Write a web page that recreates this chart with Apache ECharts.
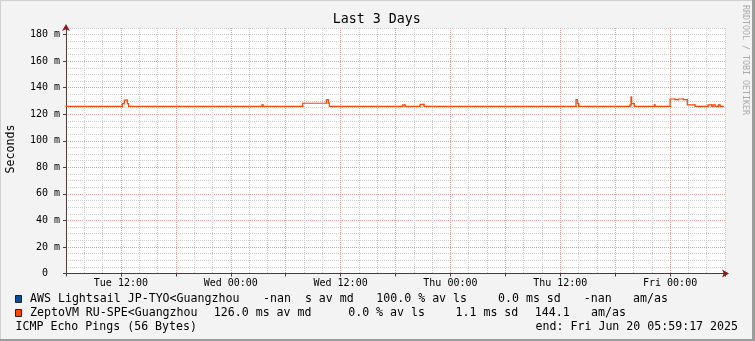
<!DOCTYPE html>
<html><head><meta charset="utf-8">
<script src="https://cdn.jsdelivr.net/npm/echarts@6/dist/echarts.min.js"></script>
<style>html,body{margin:0;padding:0;background:#f3f3f3}#c{width:755px;height:341px}</style>
</head><body><div id="c"></div>
<script>
// ---- data ----
const chartTitle = 'Last 3 Days';
const yAxisTitle = 'Seconds';
const watermark = 'RRDTOOL / TOBI OETIKER';
// x in hours since Tue 06:00 (3 days window)
const xLabelHours = [6, 18, 30, 42, 54, 66];
const xTickLabels = ['Tue 12:00', 'Wed 00:00', 'Wed 12:00', 'Thu 00:00', 'Thu 12:00', 'Fri 00:00'];
const yTickValues = [0, 20, 40, 60, 80, 100, 120, 140, 160, 180];
const yTickLabels = ['0', '20 m', '40 m', '60 m', '80 m', '100 m', '120 m', '140 m', '160 m', '180 m'];
// ZeptoVM median RTT (ms), value holds from each hour mark to the next
const zeptoHours = [0, 6.15, 6.37, 6.70, 6.83, 21.41, 21.52, 25.86, 28.44, 28.66, 28.77, 36.79, 37.04, 38.68, 39.11, 55.72, 55.86, 56.01, 61.62, 61.73, 61.80, 62.09, 64.27, 64.35, 66.0, 66.54, 66.9, 67.44, 67.88, 68.72, 70.15, 70.55, 70.69, 70.91, 71.27, 71.45, 71.81];
const zeptoMs = [126, 128, 130.6, 128, 126, 127, 126, 128.3, 131, 128.3, 126, 127, 126, 127.5, 126, 131, 128, 126, 127, 133, 128, 126, 127, 126, 131.5, 131, 131.5, 131, 127, 126, 127, 126, 127, 126, 127, 126, 126];
// AWS: no data (-nan)
const awsHours = [];
const awsMs = [];
const seriesNames = ['AWS Lightsail JP-TYO<Guangzhou', 'ZeptoVM RU-SPE<Guangzhou'];
const seriesColors = ['#0a4c96', '#ff4500'];
const awsStats = ['-nan  s av md', '100.0 % av ls', '0.0 ms sd', '-nan', 'am/as'];
const zeptoStats = ['126.0 ms av md', '0.0 % av ls', '1.1 ms sd', '144.1', 'am/as'];
const footerLeft = 'ICMP Echo Pings (56 Bytes)';
const footerRight = 'end: Fri Jun 20 05:59:17 2025';

// ---- layout / style ----
const MONO = 'DejaVu Sans Mono';
const statX = [[263, 376.3, 498, 583.8, 633], [213.8, 348.2, 455.5, 534.8, 591]];
const rowY = [299, 313];

// step items: [startHour, endHour, value, previousValue]
function stepItems(hours, vals) {
  const out = [];
  for (let i = 0; i + 1 < hours.length; i++) {
    out.push([hours[i], hours[i + 1], vals[i], i > 0 ? vals[i - 1] : vals[i]]);
  }
  return out;
}

function stepRender(color) {
  return function (params, api) {
    const h0 = api.value(0), h1 = api.value(1), v = api.value(2), vp = api.value(3);
    const a = api.coord([h0, vp]);
    const b = api.coord([h0, v]);
    const c = api.coord([h1, v]);
    return {
      type: 'polyline',
      shape: {points: [a, b, c]},
      style: {stroke: color, lineWidth: 1.2, fill: null, lineJoin: 'miter', lineCap: 'square'}
    };
  };
}

const chart = echarts.init(document.getElementById('c'), null, {renderer: 'canvas'});

const gridMinor = {color: '#cdcdcd', type: [1, 1], width: 1};
const gridMajor = {color: 'rgba(240,110,110,0.45)', type: [1, 1], width: 1};
const axisColor = '#4d3b3b';
const arrowColor = '#8a1a1a';

const graphics = [];
graphics.push({type: 'rect', shape: {x: 0, y: 0, width: 755, height: 1}, style: {fill: '#d0d0d0'}, silent: true});
graphics.push({type: 'rect', shape: {x: 0, y: 0, width: 1, height: 341}, style: {fill: '#d0d0d0'}, silent: true});
graphics.push({type: 'rect', shape: {x: 752, y: 0, width: 3, height: 341}, style: {fill: '#9c9c9c'}, silent: true});
graphics.push({type: 'rect', shape: {x: 0, y: 339, width: 755, height: 2}, style: {fill: '#9c9c9c'}, silent: true});
graphics.push({type: 'text', x: 376.7, y: 19.5, style: {text: chartTitle, font: '13.3px "' + MONO + '"', fill: '#000', align: 'center', verticalAlign: 'middle'}});
graphics.push({type: 'text', x: 11, y: 149, rotation: Math.PI / 2, style: {text: yAxisTitle, font: '11.6px "' + MONO + '"', fill: '#000', align: 'center', verticalAlign: 'middle'}});
graphics.push({type: 'text', x: 745, y: 60, rotation: -Math.PI / 2, style: {text: watermark, font: '8.3px "' + MONO + '"', fill: '#ababab', align: 'center', verticalAlign: 'middle'}});
const statsRows = [awsStats, zeptoStats];
for (let r = 0; r < 2; r++) {
  graphics.push({type: 'rect', shape: {x: 15.5, y: rowY[r] - 3.5, width: 6, height: 7}, style: {fill: seriesColors[r], stroke: '#222', lineWidth: 1}});
  graphics.push({type: 'text', x: 30, y: rowY[r], style: {text: seriesNames[r], font: '11.6px "' + MONO + '"', fill: '#000', align: 'left', verticalAlign: 'middle'}});
  statsRows[r].forEach((s, i) => {
    graphics.push({type: 'text', x: statX[r][i], y: rowY[r], style: {text: s, font: '11.6px "' + MONO + '"', fill: '#000', align: 'left', verticalAlign: 'middle'}});
  });
}
graphics.push({type: 'text', x: 15.5, y: 327, style: {text: footerLeft, font: '11.6px "' + MONO + '"', fill: '#000', align: 'left', verticalAlign: 'middle'}});
graphics.push({type: 'text', x: 738, y: 327, style: {text: footerRight, font: '11.6px "' + MONO + '"', fill: '#000', align: 'right', verticalAlign: 'middle'}});

const option = {
  animation: false,
  backgroundColor: '#f3f3f3',
  grid: {left: 66, right: 30, top: 28, bottom: 67.5, show: true, backgroundColor: '#ffffff', borderWidth: 0, containLabel: false},
  xAxis: [
    {type: 'value', position: 'bottom', min: 0, max: 72, interval: 2,
     axisLine: {show: true, onZero: false, symbol: ['none', 'arrow'], symbolSize: [6, 7], symbolOffset: [0, 4], lineStyle: {color: arrowColor, width: 0.01}},
     axisTick: {show: false}, axisLabel: {show: false},
     splitLine: {show: true, lineStyle: gridMinor}},
    {type: 'value', position: 'bottom', min: 0, max: 72, interval: 6,
     axisLine: {show: true, onZero: false, lineStyle: {color: axisColor, width: 1}},
     axisTick: {show: true, length: 3, lineStyle: {color: axisColor}},
     axisLabel: {show: true, customValues: xLabelHours, margin: 5, fontFamily: MONO, fontSize: 10, color: '#000',
       formatter: v => { const i = xLabelHours.indexOf(v); return i >= 0 ? xTickLabels[i] : ''; }},
     splitLine: {show: true, showMinLine: false, showMaxLine: false, lineStyle: gridMajor}}
  ],
  yAxis: [
    {type: 'value', position: 'left', min: 0, max: 185, interval: 5,
     axisLine: {show: true, onZero: false, symbol: ['none', 'arrow'], symbolSize: [6, 7], symbolOffset: [0, 4], lineStyle: {color: arrowColor, width: 0.01}},
     axisTick: {show: false}, axisLabel: {show: false},
     splitLine: {show: true, lineStyle: gridMinor}},
    {type: 'value', position: 'left', min: 0, max: 185, interval: 20,
     axisLine: {show: true, onZero: false, lineStyle: {color: axisColor, width: 1}},
     axisTick: {show: true, length: 3, customValues: yTickValues, lineStyle: {color: axisColor}},
     axisLabel: {show: true, customValues: yTickValues, margin: 6, fontFamily: MONO, fontSize: 10, color: '#000',
       formatter: v => { const i = yTickValues.indexOf(v); if (i < 0) return ''; const t = yTickLabels[i]; return t.indexOf(' m') < 0 ? t + '  ' : t; }},
     splitLine: {show: true, showMinLine: false, showMaxLine: false, lineStyle: gridMajor}}
  ],
  series: [
    {name: seriesNames[0], type: 'custom', xAxisIndex: 1, yAxisIndex: 1, renderItem: stepRender(seriesColors[0]),
     encode: {x: [0, 1], y: [2, 3]}, data: stepItems(awsHours, awsMs), z: 5, silent: true},
    {name: seriesNames[1], type: 'custom', xAxisIndex: 1, yAxisIndex: 1, renderItem: stepRender(seriesColors[1]),
     encode: {x: [0, 1], y: [2, 3]}, data: stepItems(zeptoHours, zeptoMs), z: 5, silent: true}
  ],
  graphic: graphics
};
chart.setOption(option);
</script>
</body></html>
